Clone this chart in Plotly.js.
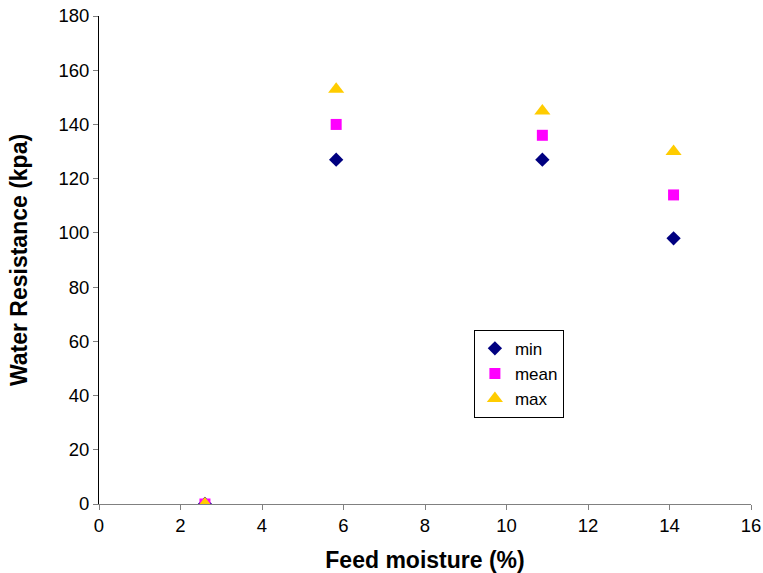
<!DOCTYPE html>
<html><head><meta charset="utf-8">
<script src="https://cdn.plot.ly/plotly-3.0.1.min.js"></script>
<style>body{margin:0;background:#fff}</style></head>
<body><div id="chart" style="width:763px;height:573px"></div>
<script>
const moisture = [2.6, 5.82, 10.88, 14.1];
const minVals = [0, 127, 127, 98];
const meanVals = [0, 140, 136, 114];
const maxVals = [0, 153, 145, 130];

const traces = [
  {x: moisture, y: minVals, name: 'min', mode: 'markers', type: 'scatter',
   marker: {symbol: 'diamond', color: '#000080', size: 11}},
  {x: moisture, y: meanVals, name: 'mean', mode: 'markers', type: 'scatter',
   marker: {symbol: 'square', color: '#FF00FF', size: 11}},
  {x: moisture, y: maxVals, name: 'max', mode: 'markers', type: 'scatter',
   marker: {symbol: 'triangle-up', color: '#FFCC00', size: 14}}
];
const layout = {
  width: 763, height: 573,
  margin: {l: 99, r: 12, t: 16, b: 69},
  paper_bgcolor: '#fff', plot_bgcolor: '#fff',
  font: {family: 'Liberation Sans, Arial, sans-serif', color: '#000', size: 18.5},
  showlegend: true,
  legend: {x: 0.575, y: 0.357, xanchor: 'left', yanchor: 'top', bordercolor: '#000', borderwidth: 1,
           font: {size: 17}, bgcolor: '#fff', itemwidth: 30, tracegroupgap: 0},
  xaxis: {range: [0, 16], dtick: 2, showgrid: false, zeroline: false, showline: true,
          linecolor: '#808080', linewidth: 1, ticks: 'outside', ticklen: 5, tickcolor: '#808080',
          tickfont: {size: 18.5},
          title: {text: '<b>Feed moisture (%)</b>', font: {size: 23}, standoff: 19}},
  yaxis: {range: [0, 180], dtick: 20, showgrid: false, zeroline: false, showline: true,
          linecolor: '#000', linewidth: 1, ticks: 'outside', ticklen: 5, tickcolor: '#808080',
          tickfont: {size: 18.5},
          title: {text: '<b>Water Resistance (kpa)</b>', font: {size: 23}, standoff: 24}}
};
Plotly.newPlot('chart', traces, layout, {displayModeBar: false});
</script></body></html>
